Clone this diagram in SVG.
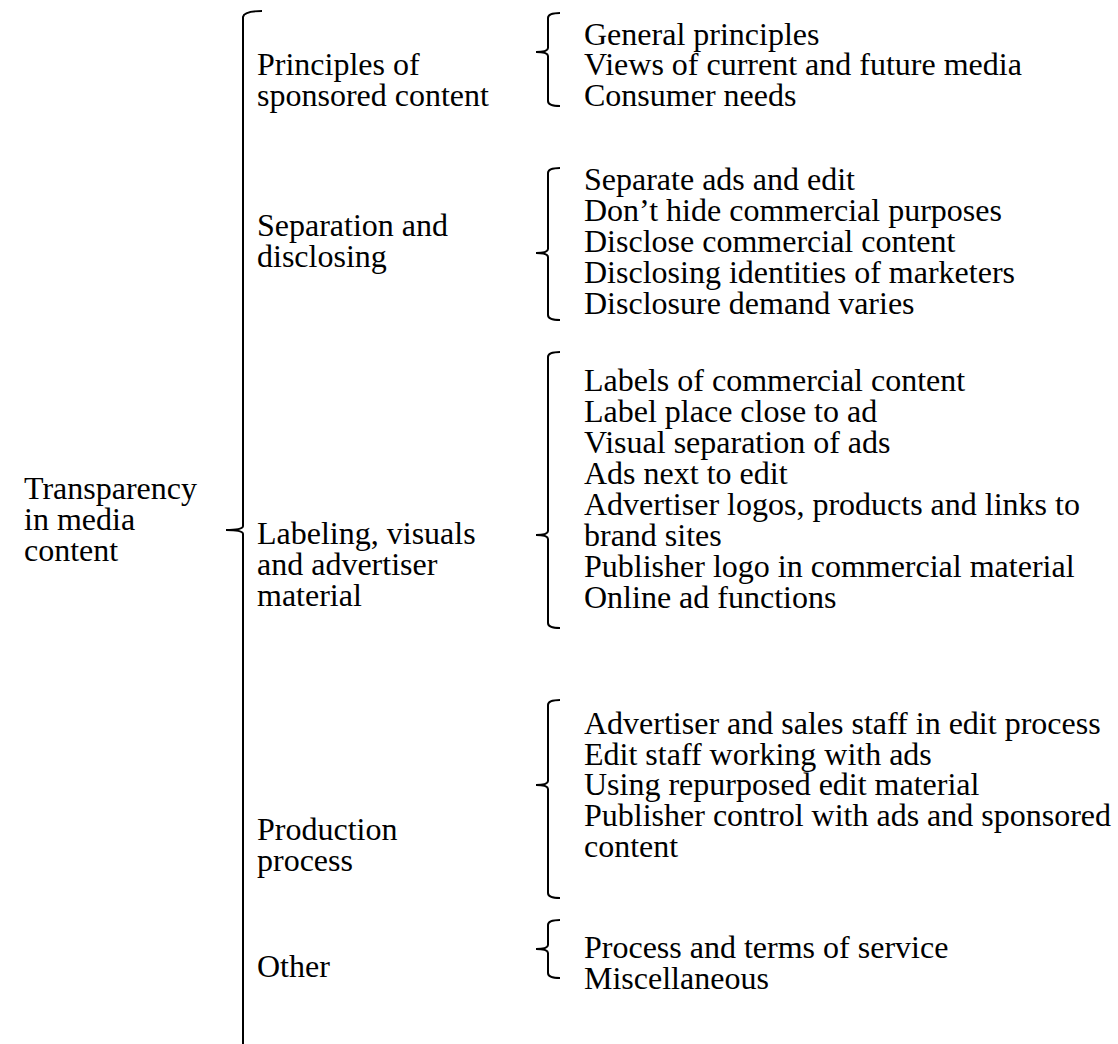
<svg xmlns="http://www.w3.org/2000/svg" width="1118" height="1044" viewBox="0 0 1118 1044">
<style>
text{font-family:"Liberation Serif","Times New Roman",serif;font-size:32px;fill:#000}
.br{fill:none;stroke:#000;stroke-width:2}
</style>
<rect width="1118" height="1044" fill="#fff"/>
<g id="connectors">
<path class="br" d="M262,11 Q244,11 243,17 L243,526 Q243,530 226,530 Q243,530 243,534 L243,1044"/>
<path class="br" d="M560,13 Q548,13 548,18 L548,48 Q548,52 536,52 Q548,52 548,56 L548,101 Q548,106 560,106"/>
<path class="br" d="M560,168 Q548,168 548,173 L548,249 Q548,253 536,253 Q548,253 548,257 L548,315 Q548,320 560,320"/>
<path class="br" d="M560,352 Q548,352 548,357 L548,531 Q548,535 536,535 Q548,535 548,539 L548,623 Q548,628 560,628"/>
<path class="br" d="M560,700 Q548,700 548,705 L548,781 Q548,785 536,785 Q548,785 548,789 L548,893 Q548,898 560,898"/>
<path class="br" d="M560,920 Q548,920 548,925 L548,945 Q548,949 536,949 Q548,949 548,953 L548,973 Q548,978 560,978"/>
</g>
<g id="root"><text x="24" y="499">Transparency</text><text x="24" y="530">in media</text><text x="24" y="561">content</text></g>
<g id="cat1"><text x="257" y="75">Principles of</text><text x="257" y="106">sponsored content</text></g>
<g id="cat2"><text x="257" y="236">Separation and</text><text x="257" y="267">disclosing</text></g>
<g id="cat3"><text x="257" y="544">Labeling, visuals</text><text x="257" y="575">and advertiser</text><text x="257" y="606">material</text></g>
<g id="cat4"><text x="257" y="840">Production</text><text x="257" y="871">process</text></g>
<g id="cat5"><text x="257" y="977">Other</text></g>
<g id="items1"><text x="584" y="45">General principles</text><text x="584" y="75">Views of current and future media</text><text x="584" y="106">Consumer needs</text></g>
<g id="items2"><text x="584" y="190">Separate ads and edit</text><text x="584" y="221">Don’t hide commercial purposes</text><text x="584" y="252">Disclose commercial content</text><text x="584" y="283">Disclosing identities of marketers</text><text x="584" y="314">Disclosure demand varies</text></g>
<g id="items3"><text x="584" y="391">Labels of commercial content</text><text x="584" y="422">Label place close to ad</text><text x="584" y="453">Visual separation of ads</text><text x="584" y="484">Ads next to edit</text><text x="584" y="515">Advertiser logos, products and links to</text><text x="584" y="546">brand sites</text><text x="584" y="577">Publisher logo in commercial material</text><text x="584" y="608">Online ad functions</text></g>
<g id="items4"><text x="584" y="734">Advertiser and sales staff in edit process</text><text x="584" y="765">Edit staff working with ads</text><text x="584" y="795">Using repurposed edit material</text><text x="584" y="826">Publisher control with ads and sponsored</text><text x="584" y="857">content</text></g>
<g id="items5"><text x="584" y="958">Process and terms of service</text><text x="584" y="989">Miscellaneous</text></g>
</svg>
